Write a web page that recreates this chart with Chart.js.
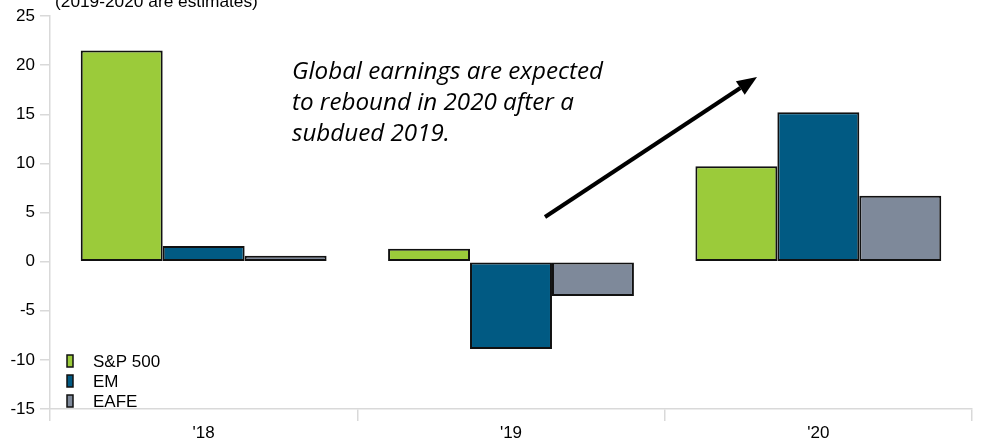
<!DOCTYPE html>
<html>
<head>
<meta charset="utf-8">
<script src="https://cdn.jsdelivr.net/npm/chart.js@4"></script>
<style>
html,body{margin:0;padding:0;background:#fff;}
#wrap{width:987px;height:441px;position:relative;}
</style>
</head>
<body>
<div id="wrap"><canvas id="c" width="987" height="441"></canvas></div>
<script>
const categories = ["'18", "'19", "'20"];
const seriesNames = ["S&P 500", "EM", "EAFE"];
const sp500 = [21.5, 1.3, 9.7];
const em = [1.6, -8.9, 15.2];
const eafe = [0.6, -3.5, 6.7];
const yTicks = { min: -15, max: 25, step: 5 };
const titleText = "(2019-2020 are estimates)";
const noteLines = ["Global earnings are expected", "to rebound in 2020 after a", "subdued 2019."];
const colors = ["#9BCB3A", "#015A83", "#7E899A"];

function fitFont(ctx, text, width, style, family) {
  ctx.font = style + ' 20px ' + family;
  const w = ctx.measureText(text).width;
  const fs = 20 * width / w;
  return style + ' ' + fs.toFixed(2) + 'px ' + family;
}

const overlay = {
  id: 'overlay',
  afterDraw(chart) {
    const ctx = chart.ctx;
    ctx.save();
    // title
    ctx.fillStyle = '#000';
    ctx.font = fitFont(ctx, titleText, 203, 'normal', '"Liberation Sans", Arial, sans-serif');
    ctx.textAlign = 'left';
    ctx.textBaseline = 'alphabetic';
    ctx.fillText(titleText, 55, 7);
    // annotation
    ctx.font = fitFont(ctx, noteLines[0], 311, 'italic', '"Open Sans", sans-serif');
    ctx.textBaseline = 'middle';
    noteLines.forEach((t, i) => ctx.fillText(t, 292, 72 + i * 31));
    // arrow
    const x0 = 545, y0 = 217, x1 = 757, y1 = 77;
    const ang = Math.atan2(y1 - y0, x1 - x0);
    const hl = 20, hw = 8;
    const bx = x1 - hl * Math.cos(ang), by = y1 - hl * Math.sin(ang);
    ctx.strokeStyle = '#000';
    ctx.lineWidth = 4;
    ctx.beginPath();
    ctx.moveTo(x0, y0);
    ctx.lineTo(bx, by);
    ctx.stroke();
    ctx.fillStyle = '#000';
    ctx.beginPath();
    ctx.moveTo(x1, y1);
    ctx.lineTo(bx + hw * Math.sin(ang), by - hw * Math.cos(ang));
    ctx.lineTo(bx - hw * Math.sin(ang), by + hw * Math.cos(ang));
    ctx.closePath();
    ctx.fill();
    // legend
    ctx.font = '17px "Liberation Sans", Arial, sans-serif';
    ctx.textBaseline = 'middle';
    chart.data.datasets.forEach((ds, i) => {
      const cy = 361 + i * 20;
      ctx.fillStyle = ds.backgroundColor;
      ctx.fillRect(67, cy - 6, 6, 12);
      ctx.strokeStyle = '#111';
      ctx.lineWidth = 1.5;
      ctx.strokeRect(67, cy - 6, 6, 12);
      ctx.fillStyle = '#000';
      ctx.fillText(ds.label, 93, cy + 1);
    });
    ctx.restore();
  }
};

new Chart(document.getElementById('c'), {
  type: 'bar',
  data: {
    labels: categories,
    datasets: [
      { label: seriesNames[0], data: sp500, backgroundColor: colors[0] },
      { label: seriesNames[1], data: em, backgroundColor: colors[1] },
      { label: seriesNames[2], data: eafe, backgroundColor: colors[2] }
    ].map(d => Object.assign(d, { borderColor: '#111', borderWidth: 2, borderSkipped: false, categoryPercentage: 0.8, barPercentage: 1.0 }))
  },
  options: {
    responsive: false,
    animation: false,
    layout: { padding: { top: 16, right: 15, left: 0, bottom: 0 } },
    plugins: { legend: { display: false }, tooltip: { enabled: false } },
    scales: {
      x: {
        grid: { offset: true, drawOnChartArea: false, drawTicks: true, tickLength: 12, color: '#d9d9d9', lineWidth: 1.5 },
        border: { display: true, color: '#d9d9d9', width: 1.5 },
        ticks: { color: '#000', font: { family: '"Liberation Sans", Arial, sans-serif', size: 17 }, padding: 2 },
        afterFit(s) { s.height = 32; }
      },
      y: {
        min: yTicks.min, max: yTicks.max,
        grid: { drawOnChartArea: false, drawTicks: true, tickLength: 10, color: '#d9d9d9', lineWidth: 1.5 },
        border: { display: true, color: '#d9d9d9', width: 1.5 },
        ticks: { stepSize: yTicks.step, color: '#000', font: { family: '"Liberation Sans", Arial, sans-serif', size: 17 }, padding: 5 },
        afterFit(s) { s.width = 50; }
      }
    }
  },
  plugins: [overlay]
});
</script>
</body>
</html>
